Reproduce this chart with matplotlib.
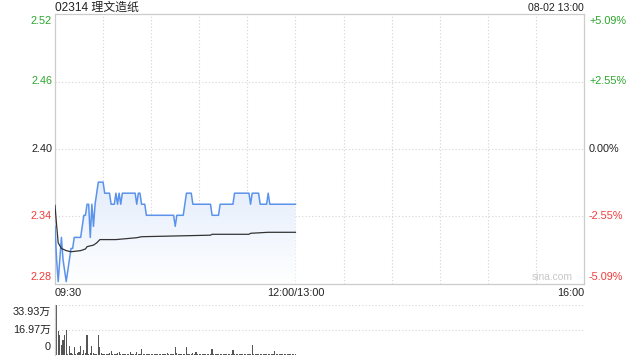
import numpy as np
import matplotlib
matplotlib.use("Agg")
import matplotlib.pyplot as plt
from matplotlib.patches import Polygon

plt.rcParams['font.family'] = ['Liberation Sans', 'Noto Sans CJK SC', 'DejaVu Sans']

title = "02314 理文造纸"
stamp = "08-02 13:00"
prev_close = 2.40
price_ticks = [2.5222, 2.4611, 2.40, 2.3389, 2.2778]
price_labels = ["2.52", "2.46", "2.40", "2.34", "2.28"]
pct_labels = ["+5.09%", "+2.55%", "0.00%", "-2.55%", "-5.09%"]
time_labels = ["09:30", "12:00/13:00", "16:00"]
vol_ticks = [33.93, 16.97, 0]
vol_labels = ["33.93万", "16.97万", "0"]

price = [2.33, 2.30, 2.28, 2.30, 2.32, 2.30, 2.29, 2.28, 2.29, 2.30,
         2.31, 2.31, 2.32, 2.32, 2.32, 2.32, 2.32, 2.33, 2.34, 2.34,
         2.35, 2.35, 2.32, 2.35, 2.33, 2.35, 2.36, 2.37, 2.37, 2.37,
         2.37, 2.36, 2.36, 2.36, 2.36, 2.35, 2.35, 2.35, 2.36, 2.35,
         2.36, 2.35, 2.36, 2.36, 2.36, 2.36, 2.36, 2.36, 2.36, 2.36,
         2.36, 2.35, 2.36, 2.36, 2.35, 2.35, 2.35, 2.34, 2.34, 2.34,
         2.34, 2.34, 2.34, 2.34, 2.34, 2.34, 2.34, 2.34, 2.34, 2.34,
         2.34, 2.34, 2.34, 2.34, 2.34, 2.33, 2.34, 2.34, 2.34, 2.34,
         2.34, 2.35, 2.36, 2.36, 2.36, 2.36, 2.35, 2.35, 2.35, 2.35,
         2.35, 2.35, 2.35, 2.35, 2.35, 2.35, 2.35, 2.35, 2.34, 2.34,
         2.34, 2.34, 2.34, 2.35, 2.35, 2.35, 2.35, 2.35, 2.35, 2.35,
         2.35, 2.35, 2.36, 2.36, 2.36, 2.36, 2.36, 2.36, 2.36, 2.36,
         2.36, 2.36, 2.35, 2.36, 2.36, 2.36, 2.36, 2.36, 2.35, 2.35,
         2.35, 2.35, 2.35, 2.36, 2.35, 2.35, 2.35, 2.35, 2.35, 2.35,
         2.35, 2.35, 2.35, 2.35, 2.35, 2.35, 2.35, 2.35, 2.35, 2.35,
         2.35]

avg_minutes = [0, 1, 2, 4, 7, 10, 16, 19, 20, 24, 26, 28, 38, 51, 54, 82, 97, 98, 121, 122, 133, 150]
avg_price = [2.349, 2.331, 2.315, 2.310, 2.308, 2.307, 2.308, 2.3095, 2.3116, 2.313,
             2.315, 2.318, 2.318, 2.3197, 2.3206, 2.3215, 2.322, 2.3228, 2.3228, 2.3237,
             2.3246, 2.3246]

volume = [20.7, 33.9, 16.1, 13.7, 6.4, 9.8, 13.2, 16.6, 0.6, 5.7,
          1.1, 0.4, 4.8, 0.5, 1.1, 1.8, 5.7, 0.4, 2.9, 1.1,
          13.2, 0.5, 0.7, 5.7, 1.1, 0.4, 0.5, 13.2, 5.2, 1.1,
          0.5, 0.6, 0.4, 0.5, 0.7, 2.3, 0.6, 0.4, 0.5, 1.1,
          1.5, 0.4, 0.6, 0.3, 0.5, 0.4, 0.6, 1.5, 0.4, 0.5,
          0.6, 2.0, 0.4, 0.5, 3.6, 0.6, 0.4, 0.5, 0.3, 0.6,
          0.4, 0.5, 0.4, 0.3, 0.5, 0.6, 0.4, 0.3, 0.5, 0.4,
          1.1, 0.5, 0.3, 0.4, 0.6, 4.8, 0.7, 0.4, 0.5, 0.6,
          0.4, 0.5, 4.8, 0.6, 0.4, 0.5, 0.7, 0.5, 1.8, 0.4,
          0.5, 0.3, 0.6, 0.4, 0.5, 0.4, 0.6, 0.5, 4.0, 0.6,
          0.4, 0.5, 0.3, 0.6, 0.5, 0.4, 0.3, 0.5, 0.4, 0.6,
          0.5, 2.9, 0.5, 0.4, 0.6, 0.3, 0.5, 0.4, 0.6, 0.5,
          0.4, 0.6, 0.5, 6.6, 0.5, 0.4, 0.6, 0.3, 0.5, 0.4,
          0.6, 0.5, 0.4, 0.3, 0.5, 0.6, 0.4, 2.3, 0.5, 0.4,
          0.3, 0.6, 0.5, 0.4, 0.3, 0.5, 0.4, 0.3, 0.4, 0.3,
          0.5]

minutes = np.arange(len(price))
total_minutes = 330

W, H = 640, 360
fig = plt.figure(figsize=(6.4, 3.6), dpi=100)
fig.patch.set_facecolor('white')

def fx(px):
    return px / W

def fy(py):
    return 1 - py / H

L, R = 55, 584
ax = fig.add_axes([fx(L), fy(284), fx(R - L), (284 - 14) / H])
axv = fig.add_axes([fx(L), fy(354.5), fx(R - L), (354.5 - 305) / H])

green = '#2aa52a'
red = '#f03a3a'
grid_c = '#d4d4d4'
border_c = '#cccccc'

lo, hi = price_ticks[-1], price_ticks[0]
ax.set_xlim(0, total_minutes)
ax.set_ylim(lo, hi)

# gradient fill under price line
grad = np.linspace(0, 1, 256).reshape(-1, 1)
top_c = np.array([228, 237, 252]) / 255.0
bot_c = np.array([255, 255, 255]) / 255.0
img = top_c * grad + bot_c * (1 - grad)
img = img.reshape(256, 1, 3)
pmax = max(price)
im = ax.imshow(img, extent=[0, minutes[-1], lo, pmax], origin='lower',
               aspect='auto', zorder=1)
verts = [(0, lo)] + list(zip(minutes, price)) + [(minutes[-1], lo)]
poly = Polygon(verts, closed=True, facecolor='none', edgecolor='none')
ax.add_patch(poly)
im.set_clip_path(poly)

ax.plot(minutes, price, color='#5b93ec', lw=1.1, zorder=3)
ax.plot(avg_minutes, avg_price, color='#333333', lw=0.9, zorder=3)

# grid
for t in range(30, total_minutes, 30):
    ax.axvline(t, color=grid_c, lw=0.8, ls=(0, (1, 2)), zorder=0.5)
for v in price_ticks[1:-1]:
    ax.axhline(v, color=grid_c, lw=0.8, ls=(0, (1, 2)), zorder=0.5)

ax.set_xticks([])
ax.set_yticks([])
for s in ax.spines.values():
    s.set_color(border_c)
    s.set_linewidth(0.9)

def pcol(i):
    v = price_ticks[i]
    if abs(v - prev_close) < 1e-6:
        return '#222222'
    return green if v > prev_close else red

fs = 7.8
for i, (v, lab, pl) in enumerate(zip(price_ticks, price_labels, pct_labels)):
    va = 'center'
    dy = 0
    if i == 0:
        va = 'top'; dy = -2
    elif i == len(price_ticks) - 1:
        va = 'bottom'; dy = 2
    ax.annotate(lab, xy=(0, v), xytext=(-3, dy), textcoords='offset pixels',
                ha='right', va=va, fontsize=fs, color=pcol(i), annotation_clip=False)
    ax.annotate(pl, xy=(total_minutes, v), xytext=(5, dy), textcoords='offset pixels',
                ha='left', va=va, fontsize=fs, color=pcol(i), annotation_clip=False)

# time labels
ax.annotate(time_labels[0], xy=(0, lo), xytext=(0, -4), textcoords='offset pixels',
            ha='left', va='top', fontsize=fs, color='#222222', annotation_clip=False)
ax.annotate(time_labels[1], xy=(150, lo), xytext=(0, -4), textcoords='offset pixels',
            ha='center', va='top', fontsize=fs, color='#222222', annotation_clip=False)
ax.annotate(time_labels[2], xy=(total_minutes, lo), xytext=(0, -4), textcoords='offset pixels',
            ha='right', va='top', fontsize=fs, color='#222222', annotation_clip=False)

fig.text(fx(L), fy(2), title, ha='left', va='top', fontsize=8.6, color='#222222')
fig.text(fx(R), fy(3), stamp, ha='right', va='top', fontsize=7.6, color='#222222')
ax.annotate('sina.com', xy=(total_minutes, lo), xytext=(-11, 2), textcoords='offset pixels',
            ha='right', va='bottom', fontsize=7.4, color='#c8c8c8', annotation_clip=False)

# volume panel
axv.set_xlim(0, total_minutes)
axv.set_ylim(0, vol_ticks[0])
axv.bar(minutes, volume, width=0.75, color='#555555', zorder=2)
for v in vol_ticks[:-1]:
    axv.axhline(v, color=grid_c, lw=0.8, ls=(0, (1, 2)), zorder=0.5)
axv.set_xticks([])
axv.set_yticks([])
for k, s in axv.spines.items():
    s.set_visible(k == 'left')
axv.spines['left'].set_color(border_c)
axv.spines['left'].set_linewidth(0.9)
for i, (v, lab) in enumerate(zip(vol_ticks, vol_labels)):
    va = 'center'; dy = 0
    if i == 0:
        va = 'top'; dy = -2
    elif i == len(vol_ticks) - 1:
        va = 'bottom'; dy = 2
    axv.annotate(lab, xy=(0, v), xytext=(-4, dy), textcoords='offset pixels',
                 ha='right', va=va, fontsize=fs, color='#222222', annotation_clip=False)

fig.savefig('out.png', dpi=100, facecolor='white')
